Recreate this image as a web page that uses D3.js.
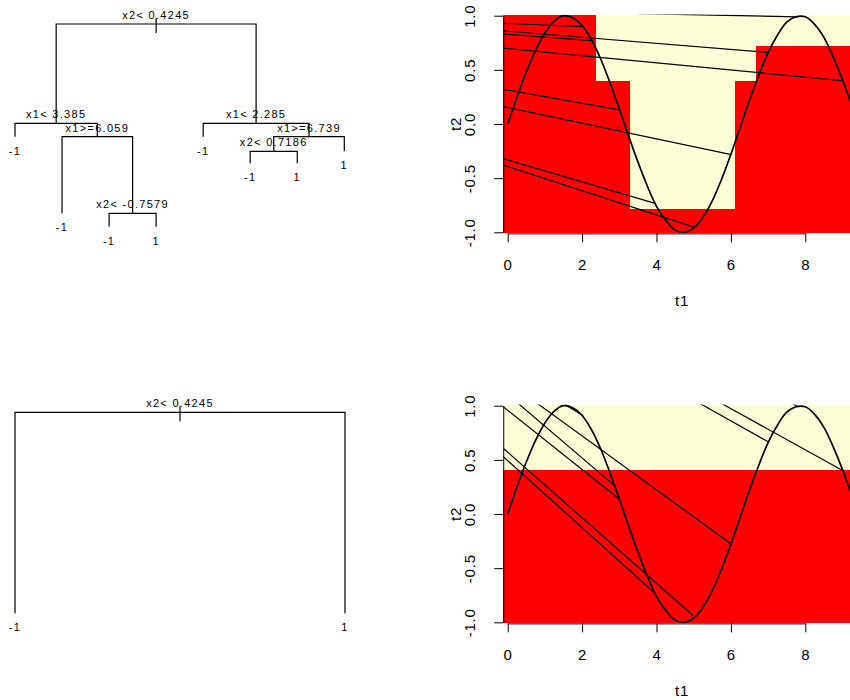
<!DOCTYPE html>
<html lang="en">
<head>
	<meta charset="utf-8">
	<title>Tree splits on a sine curve</title>
	<script src="https://d3js.org/d3.v7.min.js" charset="utf-8"></script>
	<style>
		body { margin: 0; background: #fff; }
		text {
			font-family: "Liberation Sans", Arial, Helvetica, sans-serif;
			fill: #000;
		}
		.tree text { font-size: 11px; letter-spacing: 1.3px; }
	</style>
</head>

<body>
<script>
	// ---------------- data ----------------

	// full tree, rpart numbering (children of node n are 2n and 2n+1), listed left to right
	var fullTreeIds     = [1, 2, 4, 5, 10, 11, 22, 23, 3, 6, 7, 14, 28, 29, 15];
	var fullTreeLabels  = ["x2< 0.4245", "x1< 3.385", "-1", "x1>=6.059", "-1", "x2< -0.7579", "-1", "1",
	                       "x1< 2.285", "-1", "x1>=6.739", "x2< 0.7186", "-1", "1", "1"];
	var fullTreeHeights = [100, 51, 44.4, 44.4, 6.6, 6.6, 0, 0, 51, 44.4, 44.4, 37.2, 31.3, 31.3, 37.2];

	// pruned tree (one split)
	var stumpIds     = [1, 2, 3];
	var stumpLabels  = ["x2< 0.4245", "-1", "1"];
	var stumpHeights = [100, 0, 0];

	// predicted class regions [t1 from, t1 to, t2 from, t2 to, class]
	var fullRegions = [
		[-0.12, 2.37, 0.40, 1.01, "-1"],
		[2.37, 6.67, 0.40, 1.01, "1"],
		[6.67, 9.49, 0.40, 0.72, "-1"],
		[6.67, 9.49, 0.72, 1.01, "1"],
		[-0.12, 3.29, -1.01, 0.40, "-1"],
		[3.29, 6.11, -0.785, 0.40, "1"],
		[3.29, 6.11, -1.01, -0.785, "-1"],
		[6.11, 9.49, -1.01, 0.40, "-1"]
	];
	var stumpRegions = [
		[-0.12, 9.49, 0.41, 1.01, "1"],
		[-0.12, 9.49, -1.01, 0.41, "-1"]
	];

	// the curve (t1, t2)
	var curveT = [0, 0.25, 0.5, 0.75, 1, 1.25, 1.5, 1.75, 2, 2.25, 2.5, 2.75, 3, 3.25, 3.5, 3.75, 4,
	              4.25, 4.5, 4.75, 5, 5.25, 5.5, 5.75, 6, 6.25, 6.5, 6.75, 7, 7.25, 7.5, 7.75, 8,
	              8.25, 8.5, 8.75, 9, 9.25, 9.5];
	var curveY = [0, 0.25, 0.48, 0.68, 0.84, 0.95, 1.00, 0.98, 0.91, 0.78, 0.60, 0.38, 0.14, -0.11,
	              -0.35, -0.57, -0.76, -0.89, -0.98, -1.00, -0.96, -0.86, -0.71, -0.51, -0.28, -0.03,
	              0.22, 0.45, 0.66, 0.82, 0.94, 0.99, 0.99, 0.92, 0.80, 0.62, 0.41, 0.17, -0.08];

	// segments [t1 start, t2 start, t1 end, t2 end]
	var fullSegments = [
		[-0.12, 0.93, 2.0, 0.90],
		[-0.12, 0.86, 7.0, 0.66],
		[-0.12, 0.83, 2.26, 0.77],
		[-0.12, 0.70, 8.98, 0.40],
		[-0.12, 0.32, 3.0, 0.13],
		[-0.12, 0.16, 5.98, -0.28],
		[-0.12, -0.32, 3.94, -0.73],
		[-0.12, -0.38, 4.99, -0.95],
		[3.5, 1.02, 7.81, 0.99]
	];
	var stumpSegments = [
		[-0.12, 0.99, 2.97, 0.145],
		[0.285, 1.02, 2.88, 0.26],
		[0.8, 1.02, 5.98, -0.27],
		[1.54, 1.01, 2.03, 0.91],
		[-0.12, 0.607, 4.99, -0.94],
		[-0.12, 0.53, 3.92, -0.72],
		[5.17, 1.02, 7.0, 0.667],
		[5.75, 1.02, 8.98, 0.406],
		[7.65, 1.02, 7.81, 0.99]
	];

	var xTicks = [0, 2, 4, 6, 8];
	var yTicks = [-1, -0.5, 0, 0.5, 1];
	var classColors = { "-1": "#FF0000", "1": "#FFFFD5" };

	// ---------------- drawing ----------------
	var w = 850;
	var h = 700;
	var axisFont = "15px";

	var svg = d3.select("body")
		.append("svg")
		.attr("width", w)
		.attr("height", h);

	svg.append("rect").attr("width", w).attr("height", h).attr("fill", "#fff");

	function drawTree(ids, labels, heights, box) {
		var rows = ids.map(function(id, i) {
			return { id: id, label: labels[i], h: heights[i] };
		});
		var root = d3.stratify()
			.id(function(d) { return d.id; })
			.parentId(function(d) { return d.id === 1 ? null : Math.floor(d.id / 2); })(rows);

		// leaves get 1..n from left to right, splits sit over the middle of their children
		var leaves = root.leaves();
		leaves.forEach(function(d, i) { d.x = i + 1; });
		root.eachAfter(function(d) {
			if (d.children) d.x = d3.mean(d.children, function(c) { return c.x; });
		});

		var xScale = d3.scaleLinear().domain([1, leaves.length]).range([box.left, box.right]);
		var yScale = d3.scaleLinear().domain([0, 100]).range([box.bottom, box.top]);

		var g = svg.append("g").attr("class", "tree");

		g.selectAll("path.edge")
			.data(root.descendants().slice(1))
			.enter()
			.append("path")
			.attr("class", "edge")
			.attr("d", function(d) {
				return "M" + xScale(d.parent.x) + "," + yScale(d.parent.data.h) +
					"H" + xScale(d.x) + "V" + yScale(d.data.h);
			})
			.attr("fill", "none")
			.attr("stroke", "#000")
			.attr("stroke-width", 1.2);

		// little stem on the root
		g.append("line")
			.attr("x1", xScale(root.x)).attr("x2", xScale(root.x))
			.attr("y1", yScale(root.data.h) - 6).attr("y2", yScale(root.data.h) + 9)
			.attr("stroke", "#000")
			.attr("stroke-width", 1.2);

		g.selectAll("text")
			.data(root.descendants())
			.enter()
			.append("text")
			.attr("text-anchor", "middle")
			.attr("x", function(d) { return xScale(d.x); })
			.attr("y", function(d) {
				return d.children ? yScale(d.data.h) - 5 : yScale(d.data.h) + 18;
			})
			.text(function(d) { return d.data.label; });
	}

	function drawPanel(regions, segments, top) {
		var xScale = d3.scaleLinear().domain([0, 8]).range([507.7, 805.3]);
		var yScale = d3.scaleLinear().domain([-1, 1]).range([top + 216.6, top]);
		var tMin = -0.12, tMax = 9.49, yMin = -1.01, yMax = 1.01;

		var g = svg.append("g");
		var clipId = "clip" + Math.round(top);
		g.append("clipPath").attr("id", clipId)
			.append("rect")
			.attr("x", xScale(tMin)).attr("y", yScale(yMax))
			.attr("width", xScale(tMax) - xScale(tMin))
			.attr("height", yScale(yMin) - yScale(yMax));

		var plot = g.append("g").attr("clip-path", "url(#" + clipId + ")");

		plot.selectAll("rect.cell")
			.data(regions)
			.enter()
			.append("rect")
			.attr("class", "cell")
			.attr("x", function(d) { return xScale(d[0]); })
			.attr("width", function(d) { return xScale(d[1]) - xScale(d[0]); })
			.attr("y", function(d) { return yScale(d[3]); })
			.attr("height", function(d) { return yScale(d[2]) - yScale(d[3]); })
			.attr("fill", function(d) { return classColors[d[4]]; })
			.attr("shape-rendering", "crispEdges");

		var line = d3.line()
			.x(function(d) { return xScale(d[0]); })
			.y(function(d) { return yScale(d[1]); })
			.curve(d3.curveCatmullRom);

		plot.append("path")
			.datum(curveT.map(function(t, i) { return [t, curveY[i]]; }))
			.attr("d", line)
			.attr("fill", "none")
			.attr("stroke", "#000")
			.attr("stroke-width", 1.7);

		plot.selectAll("line.seg")
			.data(segments)
			.enter()
			.append("line")
			.attr("class", "seg")
			.attr("x1", function(d) { return xScale(d[0]); })
			.attr("y1", function(d) { return yScale(d[1]); })
			.attr("x2", function(d) { return xScale(d[2]); })
			.attr("y2", function(d) { return yScale(d[3]); })
			.attr("stroke", "#000")
			.attr("stroke-width", 1.2);

		// x axis (line only from first to last tick, like R)
		var bottom = yScale(yMin);
		var xAxis = g.append("g")
			.attr("transform", "translate(0," + bottom + ")")
			.call(d3.axisBottom(xScale).tickValues(xTicks).tickSize(9).tickSizeOuter(0).tickPadding(17)
				.tickFormat(function(d) { return String(d); }));

		// y axis, labels parallel to the axis
		var left = xScale(tMin);
		var yAxis = g.append("g")
			.attr("transform", "translate(" + left + ",0)")
			.call(d3.axisLeft(yScale).tickValues(yTicks).tickSize(9).tickSizeOuter(0)
				.tickFormat(function(d) { return d.toFixed(1); }));
		yAxis.selectAll("text")
			.attr("x", 0).attr("y", 0).attr("dy", null)
			.attr("text-anchor", "middle")
			.attr("transform", "translate(-28,0) rotate(-90)");

		[xAxis, yAxis].forEach(function(a) {
			a.attr("font-family", null).attr("font-size", null);
			a.selectAll("path, line").attr("stroke", "#000");
			a.selectAll("text")
				.attr("fill", "#000")
				.style("font-size", axisFont)
				.style("letter-spacing", "0.8px");
		});

		g.append("text")
			.attr("text-anchor", "middle")
			.attr("x", 682)
			.attr("y", bottom + 72.5)
			.style("font-size", axisFont)
			.style("letter-spacing", "0.8px")
			.text("t1");

		g.append("text")
			.attr("text-anchor", "middle")
			.attr("transform", "translate(461," + yScale(0) + ") rotate(-90)")
			.style("font-size", axisFont)
			.style("letter-spacing", "0.8px")
			.text("t2");
	}

	drawTree(fullTreeIds, fullTreeLabels, fullTreeHeights, { left: 15, right: 344.3, top: 24, bottom: 226.7 });
	drawTree(stumpIds, stumpLabels, stumpHeights, { left: 15, right: 345, top: 412.3, bottom: 613.3 });

	drawPanel(fullRegions, fullSegments, 15.7);
	drawPanel(stumpRegions, stumpSegments, 405.7);
</script>
</body>
</html>
